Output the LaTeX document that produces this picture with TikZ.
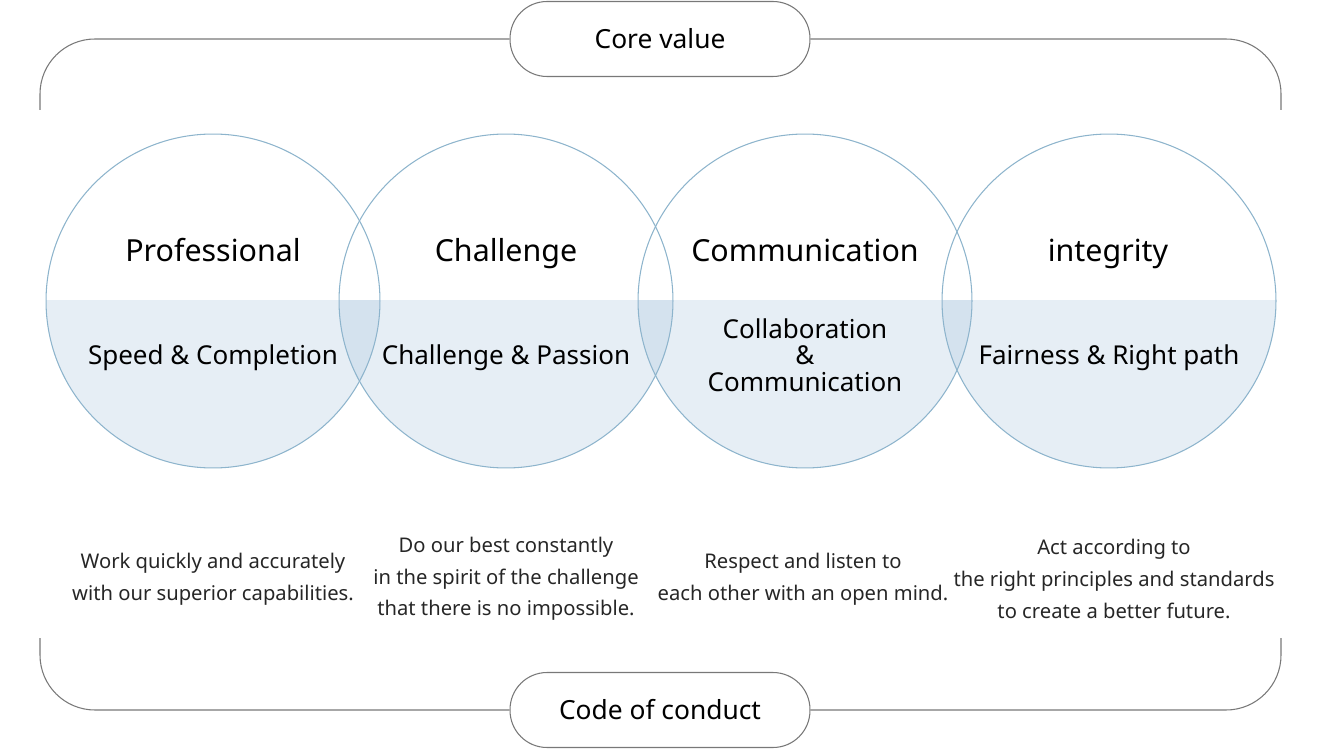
\documentclass[tikz,border=0pt]{standalone}
\usepackage{fontspec}
\setmainfont{Noto Sans}
\usetikzlibrary{positioning}

\definecolor{ringline}{RGB}{141,180,204}
\definecolor{ringfill}{RGB}{166,194,219}
\definecolor{framegray}{RGB}{120,120,120}

\begin{document}
\begin{tikzpicture}[x=0.02cm, y=-0.02cm,
    ring/.style={circle, draw=ringline, line width=0.6pt, minimum size=6.68cm, inner sep=0pt},
    pill/.style={draw=framegray, fill=white, line width=0.6pt, rounded corners=0.74cm, minimum width=6cm, minimum height=1.5cm, font=\fontsize{15}{18}\selectfont},
    frame/.style={draw=framegray, line width=0.6pt, rounded corners=1.1cm},
    title/.style={font=\fontsize{17.3}{20}\selectfont, text height=0.75em, text depth=0.22em},
    sub/.style={font=\fontsize{14.8}{15}\selectfont, align=center},
    desc/.style={font=\fontsize{11.5}{18}\selectfont, align=center, text=black!85}]

    \useasboundingbox (0,0) rectangle (1324,749);

    % lower halves of the rings
    \begin{scope}
        \clip (0,301) rectangle (1324,749);
        \fill[ringfill, fill opacity=0.28] (213,301) circle [radius=3.34cm];
        \fill[ringfill, fill opacity=0.28] (506,301) circle [radius=3.34cm];
        \fill[ringfill, fill opacity=0.28] (805,301) circle [radius=3.34cm];
        \fill[ringfill, fill opacity=0.28] (1109,301) circle [radius=3.34cm];
    \end{scope}

    \node[ring] (prof) at (213,301) {};
    \node[ring] (chal) at (506,301) {};
    \node[ring] (comm) at (805,301) {};
    \node[ring] (inte) at (1109,301) {};

    \node[title] (profT) at (213,257) {Professional};
    \node[title] (chalT) at (506,257) {Challenge};
    \node[title] (commT) at (805,257) {Communication};
    \node[title] (inteT) at (1108,257) {integrity};

    \node[sub, text height=0.75em, text depth=0.22em] (profS) at (213,360) {Speed \& Completion};
    \node[sub, text height=0.75em, text depth=0.22em] (chalS) at (506,360) {Challenge \& Passion};
    \node[sub] (commS) at (805,355) {Collaboration\\\&\\Communication};
    \node[sub, text height=0.75em, text depth=0.22em] (inteS) at (1109,360) {Fairness \& Right path};

    \node[desc] (profD) at (213,579) {Work quickly and accurately\\with our superior capabilities.};
    \node[desc] (chalD) at (506,579) {Do our best constantly\\in the spirit of the challenge\\that there is no impossible.};
    \node[desc] (commD) at (803,579) {Respect and listen to\\each other with an open mind.};
    \node[desc] (inteD) at (1114,579) {Act according to\\the right principles and standards\\to create a better future.};

    % frame
    \coordinate (tl) at (40,110);
    \coordinate (tr) at (1281,110);
    \coordinate (bl) at (40,638);
    \coordinate (br) at (1281,638);
    \node[pill] (core) at (660,39) {Core value};
    \node[pill] (conduct) at (660,710) {Code of conduct};
    \draw[frame] (core.west) -| (tl);
    \draw[frame] (core.east) -| (tr);
    \draw[frame] (conduct.west) -| (bl);
    \draw[frame] (conduct.east) -| (br);

\end{tikzpicture}
\end{document}
